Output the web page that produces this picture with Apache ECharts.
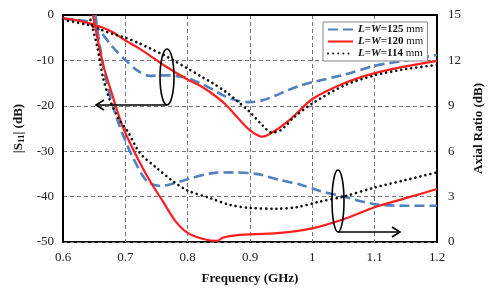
<!DOCTYPE html>
<html>
<head>
<meta charset="utf-8">
<title>S11 and axial ratio</title>
<script src="https://cdn.jsdelivr.net/npm/echarts@6/dist/echarts.min.js"></script>
<style>
  html, body { margin: 0; width: 100%; height: 100%; background: #fff; }
  #main { width: 488px; height: 288px; }
</style>
</head>
<body>
<div id="main"></div>
<script>
// legend names (L = W size)
var sizes = ['125', '120', '114'];

// |S11| (dB), [GHz, dB]
var s11_125 = [[0.6,-0.8],[0.63,-1.2],[0.648,-1.8],[0.66,-3.6],[0.68,-7.1],[0.7,-9.9],[0.72,-12.3],[0.74,-13.4],[0.76,-13.3],[0.78,-13.4],[0.8,-13.9],[0.82,-15.0],[0.84,-16.4],[0.86,-17.9],[0.88,-18.9],[0.9,-19.2],[0.92,-18.8],[0.94,-17.8],[0.96,-16.6],[0.98,-15.6],[1.0,-14.8],[1.05,-13.2],[1.1,-11.2],[1.15,-10.0],[1.2,-8.8]];
var s11_120 = [[0.6,-0.7],[0.63,-1.4],[0.66,-2.6],[0.68,-3.8],[0.7,-5.6],[0.72,-7.2],[0.74,-9.0],[0.76,-10.9],[0.78,-12.6],[0.8,-14.2],[0.82,-15.6],[0.84,-17.4],[0.86,-19.6],[0.88,-22.6],[0.9,-25.4],[0.92,-26.8],[0.94,-25.5],[0.96,-23.5],[0.98,-21.0],[1.0,-18.5],[1.05,-15.1],[1.1,-12.8],[1.15,-11.3],[1.2,-10.1]];
var s11_114 = [[0.6,-1.1],[0.64,-2.2],[0.66,-3.2],[0.68,-4.2],[0.7,-5.0],[0.72,-6.1],[0.74,-7.4],[0.76,-8.7],[0.78,-10.2],[0.8,-11.8],[0.82,-13.4],[0.84,-15.0],[0.86,-16.8],[0.88,-19.0],[0.9,-21.4],[0.92,-24.3],[0.935,-25.9],[0.95,-25.3],[0.97,-22.6],[1.0,-19.5],[1.05,-15.6],[1.1,-13.3],[1.15,-11.9],[1.2,-11.0]];

// axial ratio (dB), [GHz, dB]
var ar_125 = [[0.652,15],[0.665,11.5],[0.68,9.0],[0.696,7.1],[0.712,5.6],[0.735,4.0],[0.756,3.7],[0.78,3.9],[0.804,4.2],[0.84,4.55],[0.873,4.6],[0.91,4.5],[0.948,4.1],[0.98,3.8],[1.01,3.4],[1.05,3.0],[1.1,2.5],[1.15,2.4],[1.2,2.4]];
var ar_120 = [[0.648,15],[0.664,11.8],[0.68,9.6],[0.696,7.6],[0.72,5.5],[0.74,4.0],[0.76,2.7],[0.78,1.4],[0.8,0.6],[0.825,0.2],[0.847,0.07],[0.857,0.3],[0.88,0.46],[0.93,0.55],[0.96,0.65],[1.0,0.9],[1.05,1.5],[1.1,2.3],[1.15,2.9],[1.2,3.5]];
var ar_114 = [[0.642,15],[0.655,12.9],[0.664,10.9],[0.675,9.4],[0.69,8.1],[0.704,7.3],[0.723,5.9],[0.75,4.9],[0.777,4.0],[0.8,3.4],[0.836,2.9],[0.868,2.45],[0.9,2.25],[0.943,2.2],[0.975,2.3],[1.01,2.65],[1.05,3.0],[1.1,3.6],[1.15,4.1],[1.2,4.6]];

var serif = '"Liberation Serif", "Times New Roman", serif';
var styles = [
  { color: '#5080bf', width: 2.6, type: [10, 5] },
  { color: '#ff1e1e', width: 2.2, type: 'solid' },
  { color: '#111111', width: 2.6, type: [0.1, 5], cap: 'round' }
];

function mk(name, data, yIdx, st) {
  return {
    name: name, type: 'line', yAxisIndex: yIdx, data: data,
    smooth: 0.3, symbol: 'none', animation: false,
    lineStyle: { color: st.color, width: st.width, type: st.type, cap: st.cap || 'butt' },
    itemStyle: { color: st.color }
  };
}

var series = [
  mk(sizes[0], s11_125, 0, styles[0]),
  mk(sizes[1], s11_120, 0, styles[1]),
  mk(sizes[2], s11_114, 0, styles[2]),
  mk(sizes[0], ar_125, 1, styles[0]),
  mk(sizes[1], ar_120, 1, styles[1]),
  mk(sizes[2], ar_114, 1, styles[2])
];

var myChart = echarts.init(document.getElementById('main'));
var option = {
  animation: false,
  grid: { left: 63, right: 51, top: 15, bottom: 46, show: true, borderColor: '#000', borderWidth: 2, outerBoundsMode: 'none' },
  legend: {
    data: sizes, orient: 'vertical', left: 323, top: 22,
    backgroundColor: '#fff', borderColor: '#888', borderWidth: 1,
    padding: [2, 4, 2, 4], itemGap: 1, itemWidth: 25, itemHeight: 10,
    itemStyle: { opacity: 0 },
    formatter: function (n) { return '{i|L}{b|=}{i|W}{b|=' + n + '} mm'; },
    textStyle: {
      fontFamily: serif, fontSize: 11, color: '#222',
      rich: {
        i: { fontFamily: serif, fontSize: 11, fontStyle: 'italic', fontWeight: 'bold', color: '#111' },
        b: { fontFamily: serif, fontSize: 11, fontWeight: 'bold', color: '#111' }
      }
    }
  },
  xAxis: {
    type: 'value', min: 0.6, max: 1.2, interval: 0.1,
    name: 'Frequency (GHz)', nameLocation: 'middle', nameGap: 30,
    nameTextStyle: { fontFamily: serif, fontSize: 13, fontWeight: 'bold', color: '#111' },
    axisLine: { lineStyle: { color: '#000', width: 2 } },
    axisTick: { show: false },
    axisLabel: { fontFamily: serif, fontSize: 13, color: '#222', margin: 9,
      formatter: function (v) { return String(Math.round(v * 10) / 10); } },
    splitLine: { lineStyle: { color: '#777', type: [4, 3], width: 1 } }
  },
  yAxis: [{
    type: 'value', min: -50, max: 0, interval: 10,
    name: '|S{s|11}| (dB)', nameLocation: 'middle', nameGap: 37, nameRotate: 90,
    nameTextStyle: { fontFamily: serif, fontSize: 13, fontWeight: 'bold', color: '#111',
      rich: { s: { fontFamily: serif, fontSize: 9, fontWeight: 'bold', color: '#111', verticalAlign: 'bottom', padding: [6, 0, 0, 0] } } },
    axisLine: { lineStyle: { color: '#000', width: 2 } },
    axisTick: { show: false },
    axisLabel: { fontFamily: serif, fontSize: 13, color: '#222', margin: 9 },
    splitLine: { lineStyle: { color: '#777', type: [4, 3], width: 1 } }
  }, {
    type: 'value', min: 0, max: 15, interval: 3,
    name: 'Axial Ratio (dB)', nameLocation: 'middle', nameGap: 34, nameRotate: 90,
    nameTextStyle: { fontFamily: serif, fontSize: 13, fontWeight: 'bold', color: '#111' },
    axisLine: { lineStyle: { color: '#000', width: 2 } },
    axisTick: { show: false },
    axisLabel: { fontFamily: serif, fontSize: 13, color: '#222', margin: 11 },
    splitLine: { show: false }
  }],
  series: series,
  graphic: [
    { type: 'ellipse', shape: { cx: 167, cy: 77, rx: 7, ry: 28 }, style: { fill: 'none', stroke: '#000', lineWidth: 1.6 }, z: 100 },
    { type: 'polyline', shape: { points: [[167, 105], [96, 105]] }, style: { stroke: '#000', lineWidth: 1.6 }, z: 100 },
    { type: 'polyline', shape: { points: [[104, 100], [96, 105], [104, 110]] }, style: { stroke: '#000', lineWidth: 1.6, fill: 'none' }, z: 100 },
    { type: 'ellipse', shape: { cx: 338, cy: 201, rx: 6, ry: 31 }, style: { fill: 'none', stroke: '#000', lineWidth: 1.6 }, z: 100 },
    { type: 'polyline', shape: { points: [[338, 232], [400, 232]] }, style: { stroke: '#000', lineWidth: 1.6 }, z: 100 },
    { type: 'polyline', shape: { points: [[392, 227], [400, 232], [392, 237]] }, style: { stroke: '#000', lineWidth: 1.6, fill: 'none' }, z: 100 }
  ]
};
myChart.setOption(option);
</script>
</body>
</html>
